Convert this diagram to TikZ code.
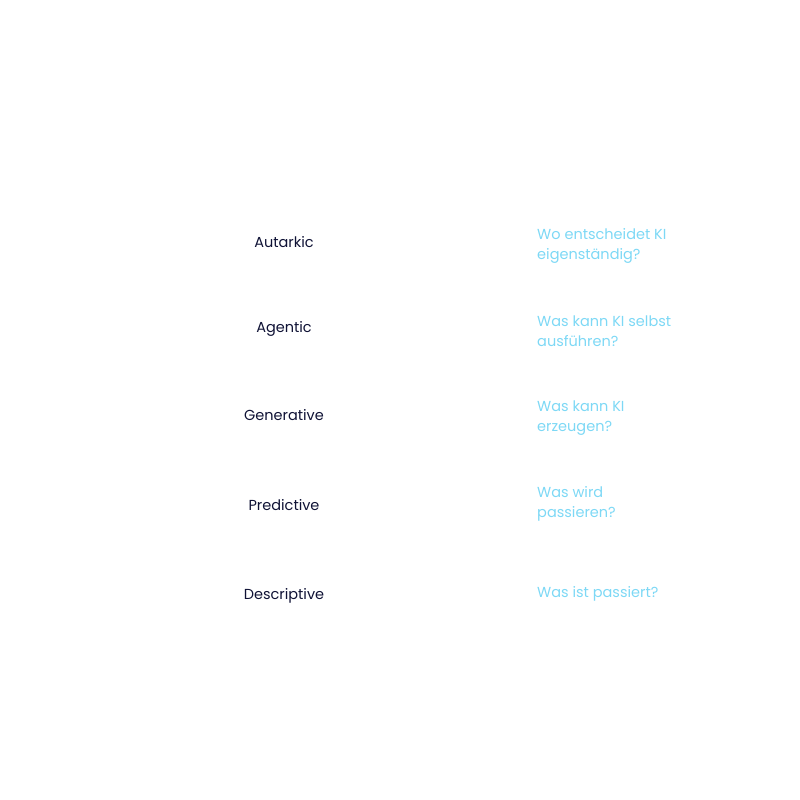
\documentclass[tikz,border=0pt]{standalone}
\usepackage{fontspec}
\setmainfont{Poppins}
\definecolor{navy}{HTML}{0F1235}
\definecolor{sky}{HTML}{7DD8F5}
\begin{document}
\begin{tikzpicture}[x=1pt,y=-1pt,
  lev/.style={text=navy,font=\fontsize{14.5}{18}\selectfont,anchor=center},
  q/.style={text=sky,font=\fontsize{14.5}{20}\selectfont,anchor=west,align=left,inner sep=0pt}]
\useasboundingbox (0,0) rectangle (800,800);
\node[lev] (a) at (284,242) {Autarkic};
\node[lev] (b) at (284,329) {Agentic};
\node[lev] (c) at (284,415) {Generative};
\node[lev] (d) at (284,505) {Predictive};
\node[lev] (e) at (284,596) {Descriptive};
\node[q] (qa) at (537,246) {Wo entscheidet KI\\eigenständig?};
\node[q] (qb) at (537,331) {Was kann KI selbst\\ausführen?};
\node[q] (qc) at (537,418) {Was kann KI\\erzeugen?};
\node[q] (qd) at (537,504) {Was wird\\passieren?};
\node[q] (qe) at (537,594) {Was ist passiert?};
\end{tikzpicture}
\end{document}
